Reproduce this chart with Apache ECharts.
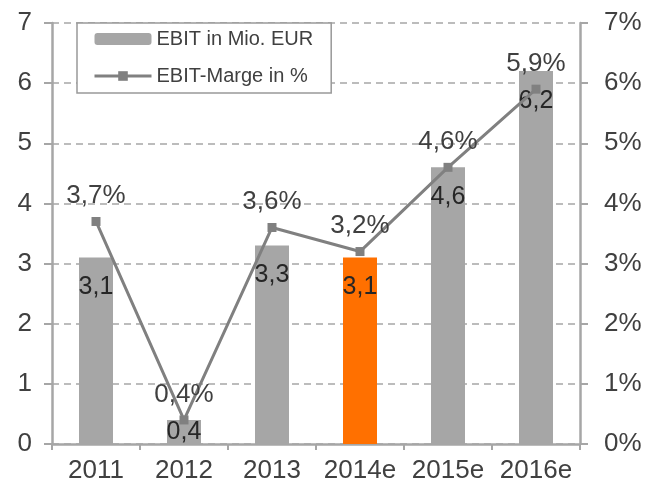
<!DOCTYPE html>
<html>
<head>
<meta charset="utf-8">
<script src="https://cdn.jsdelivr.net/npm/echarts@6/dist/echarts.min.js"></script>
<style>
  html, body { margin: 0; padding: 0; background: #fff; }
  #chart { width: 648px; height: 486px; }
</style>
</head>
<body>
<div id="chart"></div>
<script>
const years = ['2011', '2012', '2013', '2014e', '2015e', '2016e'];
const ebit = [3.1, 0.4, 3.3, 3.1, 4.6, 6.2];
const marge = [3.7, 0.4, 3.6, 3.2, 4.6, 5.9];
const leftTicks = [0, 1, 2, 3, 4, 5, 6, 7];
const highlightYear = '2014e';

const grey = '#a6a6a6';
const textColor = '#404040';
const fmt = v => v.toFixed(1).replace('.', ',');

const chart = echarts.init(document.getElementById('chart'));

chart.setOption({
  animation: false,
  textStyle: { fontFamily: 'Liberation Sans, Arial, sans-serif' },
  grid: { left: 52, right: 68, top: 23, bottom: 42 },
  legend: {
    orient: 'vertical',
    left: 77,
    top: 23,
    padding: [6, 18, 7, 16],
    itemGap: 17,
    itemWidth: 57,
    itemHeight: 12,
    backgroundColor: '#fff',
    borderColor: '#999',
    borderWidth: 1.5,
    lineStyle: { width: 3 },
    textStyle: { fontSize: 20, color: textColor },
    data: ['EBIT in Mio. EUR', 'EBIT-Marge in %']
  },
  xAxis: {
    type: 'category',
    data: years,
    axisLine: { lineStyle: { color: grey, width: 2.5 } },
    axisTick: { show: true, length: 6, lineStyle: { color: grey, width: 2 } },
    axisLabel: { fontSize: 26, color: textColor, margin: 14, interval: 0 }
  },
  yAxis: [
    {
      type: 'value',
      min: leftTicks[0],
      max: leftTicks[leftTicks.length - 1],
      interval: 1,
      axisLine: { show: true, lineStyle: { color: grey, width: 2.5 } },
      axisTick: { show: true, length: 8, lineStyle: { color: grey, width: 2 } },
      axisLabel: { fontSize: 26, color: textColor, margin: 20 },
      splitLine: { show: true, lineStyle: { color: grey, width: 1.5, type: [7, 5] } }
    },
    {
      type: 'value',
      min: 0,
      max: 7,
      interval: 1,
      axisLine: { show: true, lineStyle: { color: grey, width: 2.5 } },
      axisTick: { show: true, length: 8, lineStyle: { color: grey, width: 2 } },
      axisLabel: { fontSize: 26, color: textColor, margin: 24, formatter: '{value}%' },
      splitLine: { show: false }
    }
  ],
  series: [
    {
      name: 'EBIT in Mio. EUR',
      type: 'bar',
      barWidth: 34,
      itemStyle: { color: grey },
      data: ebit.map((v, i) => ({
        value: v,
        itemStyle: years[i] === highlightYear ? { color: '#ff7000' } : undefined,
        label: v < 1 ? { position: 'inside' } : undefined
      })),
      label: {
        show: true,
        position: 'insideTop',
        distance: 17,
        fontSize: 25,
        color: '#262626',
        formatter: p => fmt(p.value)
      },
      z: 2
    },
    {
      name: 'EBIT-Marge in %',
      type: 'line',
      yAxisIndex: 1,
      data: marge,
      symbol: 'rect',
      symbolSize: 9,
      lineStyle: { color: '#808080', width: 3 },
      itemStyle: { color: '#808080' },
      label: {
        show: true,
        position: 'top',
        distance: 8,
        fontSize: 26,
        color: textColor,
        formatter: p => fmt(p.value) + '%'
      },
      z: 3
    }
  ]
});
</script>
</body>
</html>
